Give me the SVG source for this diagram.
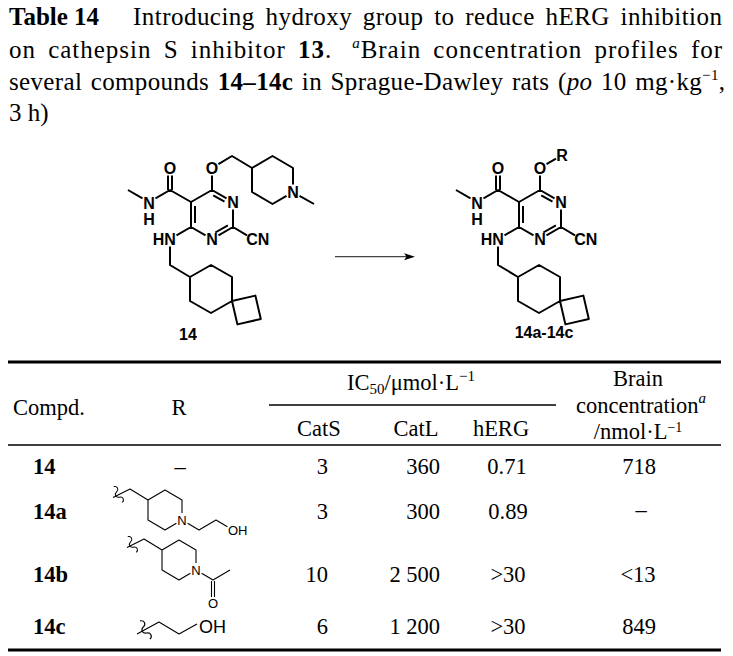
<svg xmlns="http://www.w3.org/2000/svg" xmlns:xlink="http://www.w3.org/1999/xlink" width="733" height="656" viewBox="0 0 733 656">
<style>
.serif{font-family:"Liberation Serif","Times New Roman",serif;fill:#000}
.title{font-size:25px}
.tb{font-size:22.5px}
.bd{font-weight:bold}
.it{font-style:italic}
.mid{text-anchor:middle}
.end{text-anchor:end}
.bond{stroke:#000;stroke-width:2;fill:none;stroke-linejoin:round}
.rb{stroke:#000;stroke-width:1.1;fill:none;stroke-linejoin:round}
.lab{font-family:"Liberation Sans",Arial,sans-serif;font-weight:bold;font-size:16px;text-anchor:middle;fill:#000}
.rlab{font-family:"Liberation Sans",Arial,sans-serif;font-size:13px;fill:#000}
.cpd{font-family:"Liberation Sans",Arial,sans-serif;font-weight:bold;font-size:16px;text-anchor:middle;fill:#000}
.rule{stroke:#000;fill:none}
</style>
<defs>
<path id="wavy" d="M0,-9 c3.5,1 3.5,5 0,6 c-3.5,1 -3.5,5 0,6 c3.5,1 3.5,5 0,6" fill="none" stroke="#000" stroke-width="1"/>
<g id="core">
<path class="bond" d="M128,190 L142.5,198.3 M155.5,198.3 L170,190 L191,202 M168,190 L168,175.5 M172,190 L172,175.5 M212,190 L212,175.5 M191,202 L212,190 L226.5,198.3 M233,209.5 L233,227 L218.5,235.3 M205.5,235.3 L191,227 L191,202 M195,206 L195,223 M213.2,195.3 L224.5,201.7 M227.9,225.3 L215.3,232.5 M191,227 L176.5,235.3 M170,246.5 L170,265 L190,277 M190,277 L211,265 L232,277 L232,301 L211,313 L190,301 Z M232,301 L255.4,295.6 L260.8,319 L237.4,324.4 Z M233,227 L247,235.4"/>
<text class="lab" x="170" y="173.7">O</text>
<text class="lab" x="212" y="173.7">O</text>
<text class="lab" x="149" y="208.7">N</text>
<text class="lab" x="149" y="224.7">H</text>
<text class="lab" x="233" y="207.7">N</text>
<text class="lab" x="212" y="244.7">N</text>
<text class="lab" x="175.8" y="244.7" style="text-anchor:end">HN</text>
<text class="lab" x="246.2" y="244.7" style="text-anchor:start">CN</text>
</g>
</defs>
<g class="serif title">
<text class="bd" x="9" y="25">Table 14</text>
<text x="133" y="25" textLength="589" lengthAdjust="spacing" word-spacing="4">Introducing hydroxy group to reduce hERG inhibition</text>
<text x="9" y="57.5" textLength="713" lengthAdjust="spacing" word-spacing="5">on cathepsin S inhibitor <tspan class="bd">13</tspan>.<tspan dx="20" class="it" font-size="15" dy="-10">a</tspan><tspan dy="10">Brain concentration profiles for</tspan></text>
<text x="9" y="90" textLength="716" lengthAdjust="spacing" word-spacing="2">several compounds <tspan class="bd">14–14c</tspan> in Sprague-Dawley rats (<tspan class="it">po</tspan> 10 mg·kg<tspan font-size="15" dy="-10">−1</tspan><tspan dy="10">,</tspan></text>
<text x="9" y="121">3 h)</text>
</g>
<g id="compound-14">
<use xlink:href="#core"/>
<path class="bond" d="M218.4,164.1 L232,156 L252,168 L272.5,156 L293,168 L293,184.5 M286.5,195.8 L272.5,204 L252,192 L252,168 M299.5,195.8 L314,204"/>
<text class="lab" x="293" y="197.7">N</text>
<text class="cpd" x="188" y="340">14</text>
</g>
<g id="compound-14a-14c">
<g transform="translate(328,0)">
<use xlink:href="#core"/>
<path class="bond" d="M218.5,164.2 L228,158.6"/>
<text class="lab" x="234" y="160.7">R</text>
</g>
<text class="cpd" x="544" y="338">14a-14c</text>
</g>
<g id="connectors">
<line x1="335" y1="256.7" x2="407" y2="256.7" stroke="#444" stroke-width="1.2"/>
<polygon points="404,253.2 415,256.7 404,260.2 406.5,256.7" fill="#000"/>
</g>
<g id="table" class="serif tb">
<line class="rule" x1="8" y1="362" x2="721" y2="362" stroke-width="3"/>
<line class="rule" x1="269" y1="405" x2="556" y2="405" stroke-width="1.3"/>
<line class="rule" x1="8" y1="445" x2="721" y2="445" stroke-width="1.3"/>
<line class="rule" x1="8" y1="650" x2="721" y2="650" stroke-width="3"/>
<text x="13" y="415">Compd.</text>
<text class="mid" x="179" y="415">R</text>
<text class="mid" x="411" y="390">IC<tspan font-size="15" dy="4">50</tspan><tspan dy="-4">/μmol·L</tspan><tspan font-size="15" dy="-9">−1</tspan></text>
<text class="mid"><tspan x="638" y="386">Brain</tspan><tspan x="641" y="413">concentration<tspan class="it" font-size="15" dy="-10">a</tspan></tspan><tspan x="638" y="439">/nmol·L<tspan font-size="14" dy="-7">−1</tspan></tspan></text>
<text class="mid" x="319" y="436">CatS</text>
<text class="mid" x="416" y="436">CatL</text>
<text class="mid" x="501" y="436">hERG</text>
<text class="bd" x="33" y="474">14</text>
<text class="mid" x="180" y="474">–</text>
<text class="end" x="328" y="474">3</text>
<text class="end" x="440" y="474">360</text>
<text class="mid" x="507" y="474">0.71</text>
<text class="mid" x="639" y="474">718</text>
<text class="bd" x="33" y="519">14a</text>
<text class="end" x="328" y="519">3</text>
<text class="end" x="440" y="519">300</text>
<text class="mid" x="508" y="519">0.89</text>
<text class="mid" x="641" y="517">–</text>
<text class="bd" x="33" y="582">14b</text>
<text class="end" x="328" y="582">10</text>
<text class="end" x="440" y="582">2 500</text>
<text class="mid" x="508" y="582">&gt;30</text>
<text class="mid" x="638" y="582">&lt;13</text>
<text class="bd" x="33" y="634">14c</text>
<text class="end" x="328" y="634">6</text>
<text class="end" x="440" y="634">1 200</text>
<text class="mid" x="508" y="634">&gt;30</text>
<text class="mid" x="639" y="634">849</text>
</g>
<g id="R-14a">
<use xlink:href="#wavy" transform="translate(118,494.5) rotate(-28)"/>
<path class="rb" d="M113,497.5 L130,489 L148,500 M182,513 L182,500 L165,490 L148,500 L148,520 L165,530 L176.4,523.3 M187.6,523.3 L199,530 L216,520 L227.4,526.8"/>
<text class="rlab" x="182" y="524.7" text-anchor="middle">N</text>
<text class="rlab" x="228" y="534.7">OH</text>
</g>
<g id="R-14b">
<use xlink:href="#wavy" transform="translate(132,544.5) rotate(-28)"/>
<path class="rb" d="M127,547.5 L144,539 L162,550 M196,563 L196,550 L179,540 L162,550 L162,570 L179,580 L190.4,573.3 M201.6,573.3 L213,580 L230,570 M211.5,581 L211.5,597 M214.5,581 L214.5,597"/>
<text class="rlab" x="196" y="574.7" text-anchor="middle">N</text>
<text class="rlab" x="213" y="608" text-anchor="middle">O</text>
</g>
<g id="R-14c">
<use xlink:href="#wavy" transform="translate(145,630) rotate(-28) scale(1.15)"/>
<path class="rb" d="M137,634 L159,622 L179,634 L197,624"/>
<text class="rlab" x="199" y="633" style="font-size:18px">OH</text>
</g>
</svg>
